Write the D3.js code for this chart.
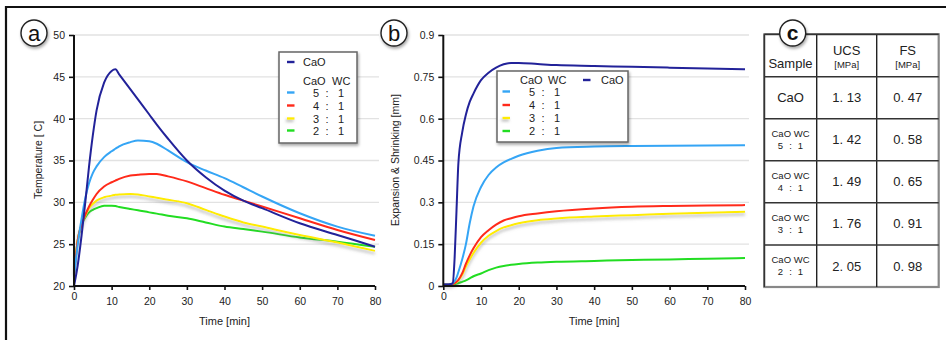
<!DOCTYPE html>
<html><head><meta charset="utf-8">
<script src="https://cdn.jsdelivr.net/npm/d3@7/dist/d3.min.js"></script>
<style>
body{margin:0;background:#fff;}
svg{display:block;font-family:"Liberation Sans",Arial,sans-serif;}
</style></head>
<body><svg id="c" width="946" height="340"></svg>
<script>
// ---------- DATA ----------
const seriesNames = ["CaO", "5 : 1", "4 : 1", "3 : 1", "2 : 1"];
const seriesColors = ["#222299", "#35a5f5", "#ff2a1a", "#ffec00", "#22dd22"];

const timeA = [0,1,2,3,4,5,6,8,10,11,12,15,17,20,22,25,30,35,40,45,50,60,70,80];
const tempCaO = [20,22.5,26,30,34.3,38,41,44.3,45.7,45.9,45.3,43.5,42.3,40.5,39.3,37.6,35.0,33.0,31.4,30.2,29.3,27.5,26.1,24.7];
const temp51  = [21,25,28,30.5,32.3,33.5,34.3,35.4,36.1,36.4,36.7,37.2,37.4,37.3,37.0,36.2,34.8,33.8,32.9,31.8,30.7,28.7,27.1,26.0];
const temp41  = [21,25.5,27.3,28.5,29.5,30.3,31.0,31.9,32.4,32.6,32.8,33.2,33.3,33.4,33.4,33.1,32.5,31.7,30.9,30.2,29.5,28.1,26.7,25.5];
const temp31  = [21.5,25.5,27.3,28.4,29.3,29.8,30.2,30.6,30.8,30.9,30.95,31.0,30.95,30.7,30.55,30.3,29.9,29.1,28.3,27.6,27.1,26.1,25.2,24.2];
const temp21  = [21.5,25.5,27.3,28.2,28.8,29.1,29.3,29.6,29.6,29.55,29.45,29.2,29.05,28.8,28.65,28.4,28.1,27.6,27.1,26.8,26.5,25.8,25.3,24.7];

const timeB = [0,1,2,2.5,3,3.5,4,5,6,7,8,10,12,14,16,18,20,25,30,40,50,60,70,80];
const expCaO = [0.005,0.005,0.007,0.01,0.1,0.27,0.44,0.55,0.615,0.66,0.69,0.738,0.765,0.783,0.795,0.8,0.8,0.796,0.792,0.789,0.786,0.783,0.78,0.777];
const exp51  = [0.005,0.005,0.007,0.01,0.018,0.03,0.05,0.095,0.15,0.225,0.285,0.355,0.398,0.425,0.443,0.456,0.467,0.485,0.495,0.5,0.502,0.503,0.504,0.505];
const exp41  = [0.005,0.005,0.006,0.007,0.01,0.015,0.022,0.045,0.08,0.11,0.135,0.175,0.2,0.22,0.235,0.243,0.25,0.26,0.268,0.278,0.284,0.287,0.289,0.29];
const exp31  = [0.005,0.005,0.006,0.007,0.01,0.014,0.02,0.04,0.07,0.095,0.118,0.155,0.18,0.197,0.21,0.218,0.225,0.236,0.242,0.249,0.254,0.259,0.263,0.266];
const exp21  = [0.005,0.005,0.006,0.006,0.007,0.008,0.01,0.015,0.02,0.027,0.035,0.045,0.057,0.066,0.072,0.076,0.079,0.084,0.087,0.09,0.093,0.095,0.098,0.1];

const xTicks = [0,10,20,30,40,50,60,70,80];
const yTicksA = [20,25,30,35,40,45,50];
const yTicksB = [0,0.15,0.3,0.45,0.6,0.75,0.9];
const yTickLabelsB = ["0","0.15","0.3","0.45","0.6","0.75","0.9"];

const tableHeader = [["Sample"],["UCS","[MPa]"],["FS","[MPa]"]];
const tableSamples = [["CaO"],["CaO WC","5 : 1"],["CaO WC","4 : 1"],["CaO WC","3 : 1"],["CaO WC","2 : 1"]];
const tableUCS = ["1. 13","1. 42","1. 49","1. 76","2. 05"];
const tableFS  = ["0. 47","0. 58","0. 65","0. 91","0. 98"];

// ---------- DRAW ----------
const svg = d3.select("#c");
const defs = svg.append("defs");
const sh = defs.append("filter").attr("id","shadow").attr("x","-30%").attr("y","-30%").attr("width","160%").attr("height","160%");
sh.append("feDropShadow").attr("dx",1).attr("dy",2).attr("stdDeviation",1.5).attr("flood-color","#000").attr("flood-opacity",0.35);
const ysh = defs.append("filter").attr("id","yshadow").attr("x","-10%").attr("y","-50%").attr("width","120%").attr("height","200%");
ysh.append("feDropShadow").attr("dx",0).attr("dy",2.5).attr("stdDeviation",1.8).attr("flood-color","#777").attr("flood-opacity",0.55);
const ysh2 = defs.append("filter").attr("id","yshadow2").attr("x","-100%").attr("y","-200%").attr("width","300%").attr("height","500%");
ysh2.append("feDropShadow").attr("dx",-1).attr("dy",2).attr("stdDeviation",1.5).attr("flood-color","#777").attr("flood-opacity",0.6);

// outer frame
svg.append("path").attr("d","M6,340 V7 H946").attr("fill","none").attr("stroke","#111").attr("stroke-width",2.2);

function drawChart(opt){
  const g = svg.append("g");
  const x = d3.scaleLinear().domain([0,80]).range([opt.x0,opt.x1]);
  const y = d3.scaleLinear().domain(opt.yDomain).range([286,35]);
  g.selectAll(".grid").data(opt.yTicks.slice(1)).enter().append("line")
    .attr("x1",opt.x0).attr("x2",opt.x1+4).attr("y1",d=>y(d)).attr("y2",d=>y(d))
    .attr("stroke","#e2e2e2").attr("stroke-width",1.3);
  const line = d3.line().curve(d3.curveMonotoneX);
  [4,3,2,1,0].forEach(i=>{
    const vals = opt.series[i];
    const pts = opt.times.map((t,k)=>[x(t),y(vals[k])]);
    g.append("path").attr("d",line(pts)).attr("fill","none")
     .attr("stroke",seriesColors[i]).attr("stroke-width",2)
     .attr("filter", i===3 ? "url(#yshadow)" : null);
  });
  const ay = g.append("g").attr("transform",`translate(${opt.x0},0)`)
    .call(d3.axisLeft(y).tickValues(opt.yTicks).tickSize(5).tickPadding(4).tickFormat((d,i)=>opt.yLabels[i]));
  const ax = g.append("g").attr("transform",`translate(0,286)`)
    .call(d3.axisBottom(x).tickValues(xTicks).tickSize(4).tickPadding(6));
  [ay,ax].forEach(a=>{
    a.select(".domain").attr("stroke","#111").attr("stroke-width",2);
    a.selectAll(".tick line").attr("stroke","#111").attr("stroke-width",1.6);
    a.selectAll("text").attr("font-size",10.5).attr("fill","#222").attr("font-family","Liberation Sans, Arial, sans-serif");
  });
  ay.select(".domain").attr("d",`M0,35V286`);
  ax.select(".domain").attr("d",`M${opt.x0},0H${opt.x1}`);
  ax.selectAll(".tick text").filter(d=>d===0).attr("dy","0.4em");
  ax.selectAll(".tick text").filter(d=>d!==0).attr("dy","0.85em");
  g.append("text").attr("x",(opt.x0+opt.x1)/2).attr("y",325).attr("text-anchor","middle")
    .attr("font-size",11).attr("fill","#222").text("Time [min]");
  g.append("text").attr("transform",`translate(${opt.ytx},160) rotate(-90)`).attr("text-anchor","middle")
    .attr("font-size",10.5).attr("fill","#222").text(opt.yTitle);
  g.append("circle").attr("cx",opt.lx).attr("cy",33).attr("r",13).attr("fill","#fff")
   .attr("stroke","#222").attr("stroke-width",1.4).attr("filter","url(#shadow)");
  g.append("text").attr("x",opt.lx).attr("y",40.5).attr("text-anchor","middle").attr("font-size",22).attr("fill","#111").text(opt.letter);
  return g;
}

drawChart({x0:74,x1:375,yDomain:[20,50],yTicks:yTicksA,yLabels:yTicksA.map(String),
  times:timeA,series:[tempCaO,temp51,temp41,temp31,temp21],yTitle:"Temperature [ C]",ytx:42,lx:34,letter:"a"});
drawChart({x0:443.3,x1:745,yDomain:[0,0.9],yTicks:yTicksB,yLabels:yTickLabelsB,
  times:timeB,series:[expCaO,exp51,exp41,exp31,exp21],yTitle:"Expansion & Shrinking [mm]",ytx:399,lx:394,letter:"b"});

function legendBox(x0,y0,w,h){
  svg.append("rect").attr("x",x0).attr("y",y0).attr("width",w).attr("height",h)
    .attr("fill","#fff").attr("stroke","#666").attr("stroke-width",1.5).attr("filter","url(#shadow)");
}
function dash(x,y,c,ish){
  svg.append("rect").attr("x",x).attr("y",y-1.2).attr("width",7.5).attr("height",2.4)
   .attr("fill",c).attr("filter",ish?"url(#yshadow2)":null);
}
function txt(x,y,s,anchor,size){
  svg.append("text").attr("x",x).attr("y",y).attr("text-anchor",anchor||"start")
   .attr("font-size",size||11).attr("fill","#222").text(s);
}
function ratioRow(x5,xc,x1,y,name){
  const parts = name.split(" : ");
  txt(x5,y,parts[0],"middle"); txt(xc,y,":","middle"); txt(x1,y,parts[1],"middle");
}
// legend a
legendBox(279,52,78,91);
dash(287,62,seriesColors[0]); txt(303,66,"CaO");
txt(303,85,"CaO"); txt(332,85,"WC");
[92.5,105.5,118.5,130.5].forEach((yy,k)=>{
  dash(287,yy,seriesColors[k+1],k===2);
  ratioRow(316,327,341,yy+4,seriesNames[k+1]);
});
// legend b
legendBox(497,71,131,71);
txt(520,83.5,"CaO"); txt(548,83.5,"WC");
dash(583,80,seriesColors[0]); txt(601,83.5,"CaO");
[91.5,105,118,131].forEach((yy,k)=>{
  dash(502.5,yy,seriesColors[k+1],k===2);
  ratioRow(532,543,557,yy+4,seriesNames[k+1]);
});

// table
const colX = [764.3,816.7,876.7,938.7];
const rowY = [34.3,76.7,118.7,160.7,202.7,245,287];
const tg = svg.append("g");
tg.append("rect").attr("x",colX[0]).attr("y",rowY[0]).attr("width",colX[3]-colX[0]).attr("height",rowY[6]-rowY[0])
  .attr("fill","#fff").attr("stroke","#888").attr("stroke-width",2.2);
colX.slice(1,3).forEach(cx=>tg.append("line").attr("x1",cx).attr("x2",cx).attr("y1",rowY[0]).attr("y2",rowY[6]).attr("stroke","#222").attr("stroke-width",1.4));
rowY.slice(1,6).forEach(ry=>tg.append("line").attr("x1",colX[0]).attr("x2",colX[3]).attr("y1",ry).attr("y2",ry).attr("stroke","#333").attr("stroke-width",1.4));
tg.append("path").attr("d",`M${colX[0]},${rowY[0]}H${colX[3]}M${colX[0]},${rowY[0]}V${rowY[6]}`).attr("stroke","#333").attr("stroke-width",1.4).attr("fill","none");
const cc = [(colX[0]+colX[1])/2,(colX[1]+colX[2])/2,(colX[2]+colX[3])/2];
txt(cc[0],67.5,tableHeader[0][0],"middle",13);
txt(cc[1],55,tableHeader[1][0],"middle",13); txt(cc[1],67.5,tableHeader[1][1],"middle",9.5);
txt(cc[2],55,tableHeader[2][0],"middle",13); txt(cc[2],67.5,tableHeader[2][1],"middle",9.5);
tableSamples.forEach((s,i)=>{
  const mid = (rowY[i+1]+rowY[i+2])/2;
  if(s.length===1){ txt(cc[0],mid+4.5,s[0],"middle",13); }
  else {
    txt(cc[0],mid-3,s[0],"middle",9.5);
    const p = s[1].split(" : ");
    txt(cc[0]-10,mid+9,p[0],"middle",9.5); txt(cc[0],mid+9,":","middle",9.5); txt(cc[0]+10,mid+9,p[1],"middle",9.5);
  }
  txt(cc[1],mid+4.5,tableUCS[i],"middle",13);
  txt(cc[2],mid+4.5,tableFS[i],"middle",13);
});
tg.append("circle").attr("cx",792.7).attr("cy",33).attr("r",13).attr("fill","#fff").attr("stroke","#222").attr("stroke-width",1.4).attr("filter","url(#shadow)");
svg.append("text").attr("x",792.7).attr("y",40).attr("text-anchor","middle").attr("font-size",21).attr("font-weight","bold").attr("fill","#111").text("c");
</script></body></html>
